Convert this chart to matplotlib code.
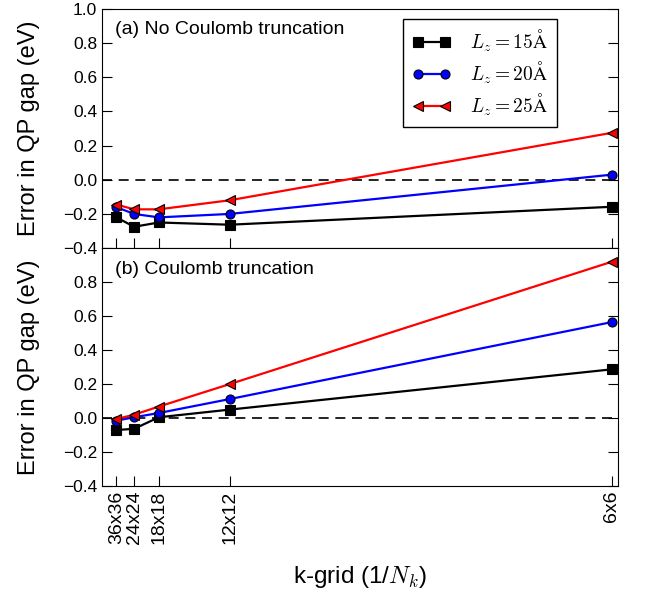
import matplotlib
matplotlib.use('Agg')
import matplotlib.pyplot as plt

plt.rcParams['font.family'] = ['Liberation Sans', 'DejaVu Sans']
plt.rcParams['mathtext.fontset'] = 'cm'

# k-grids and x positions (1/N_k)
grids = ['36x36', '24x24', '18x18', '12x12', '6x6']
nk = [36, 24, 18, 12, 6]
xvals = [1.0 / (n * n) for n in nk]

# (a) no Coulomb truncation
a_15 = [-0.22, -0.275, -0.25, -0.263, -0.158]
a_20 = [-0.16, -0.20, -0.22, -0.20, 0.03]
a_25 = [-0.145, -0.173, -0.173, -0.12, 0.275]

# (b) Coulomb truncation
b_15 = [-0.07, -0.063, 0.005, 0.05, 0.287]
b_20 = [-0.015, 0.005, 0.03, 0.112, 0.565]
b_25 = [-0.005, 0.02, 0.068, 0.2, 0.92]

labels = [r'$L_z=15\mathrm{\AA}$', r'$L_z=20\mathrm{\AA}$',
          r'$L_z=25\mathrm{\AA}$']
colors = ['black', 'blue', 'red']
markers = ['s', 'o', '<']

fig = plt.figure(figsize=(6.47, 5.95), dpi=100)
ax1 = fig.add_axes([0.158, 0.583, 0.797, 0.402])
ax2 = fig.add_axes([0.158, 0.183, 0.797, 0.400], sharex=ax1)


def draw_panel(ax, series, title):
    for ys, lab, c, m in zip(series, labels, colors, markers):
        ax.plot(xvals, ys, color=c, marker=m, ms=6.5, mec='black', mew=0.8,
                lw=1.6, label=lab, zorder=3)
    ax.axhline(0, color='black', ls=(0, (6, 4)), lw=1.2, zorder=1)
    ax.set_ylim(-0.4, 1.0)
    ax.set_yticks([-0.4, -0.2, 0.0, 0.2, 0.4, 0.6, 0.8, 1.0])
    ax.set_ylabel('Error in QP gap (eV)', fontsize=17)
    ax.tick_params(direction='in', length=7, labelsize=12.5, right=True)
    ax.text(0.025, 0.912, title, transform=ax.transAxes, fontsize=14,
            va='center', ha='left')


draw_panel(ax1, [a_15, a_20, a_25], '(a) No Coulomb truncation')
draw_panel(ax2, [b_15, b_20, b_25], '(b) Coulomb truncation')

ax1.set_xlim(0, 0.0281)
ax1.set_xticks(xvals)
ax1.tick_params(axis='x', labelbottom=False)
ax2.set_xticklabels(grids, rotation=90)
ax2.tick_params(axis='x', labelsize=14)
ax2.set_yticks([-0.4, -0.2, 0.0, 0.2, 0.4, 0.6, 0.8])
ax2.set_xlabel(r'k-grid (1/$N_k$)', fontsize=17.5, labelpad=14)

ax1.legend(loc='upper right', bbox_to_anchor=(0.882, 0.958), numpoints=2,
           fancybox=False, edgecolor='black', framealpha=1, fontsize=14,
           handlelength=2.0, borderpad=0.45, labelspacing=0.3,
           handletextpad=1.0, borderaxespad=0)

ax1.yaxis.set_label_coords(-0.12, 0.5)
ax2.yaxis.set_label_coords(-0.12, 0.5)

fig.savefig('out.png', dpi=100)
